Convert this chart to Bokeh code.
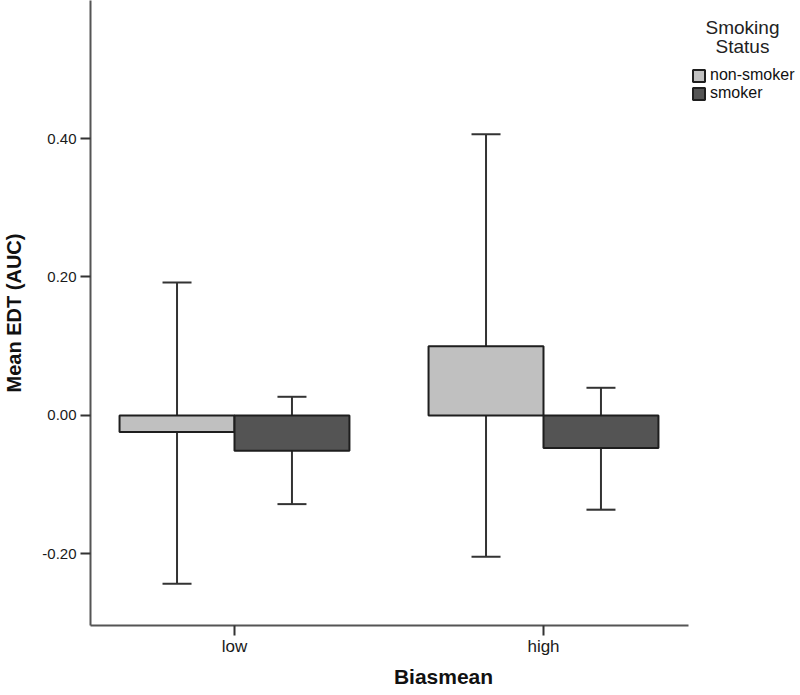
import numpy as np
from bokeh.plotting import figure
from bokeh.models import (ColumnDataSource, Range1d, FixedTicker, NumeralTickFormatter,
                          Whisker, TeeHead, Legend, LegendItem, Label)
from bokeh.transform import dodge
from bokeh.embed import file_html
from bokeh.resources import INLINE

categories = ["low", "high"]
nonsmoker_mean = [-0.024, 0.100]
nonsmoker_upper = [0.192, 0.406]
nonsmoker_lower = [-0.243, -0.204]
smoker_mean = [-0.051, -0.047]
smoker_upper = [0.027, 0.040]
smoker_lower = [-0.128, -0.136]
y_ticks = [-0.20, 0.00, 0.20, 0.40]
legend_title = ["Smoking", "Status"]
legend_labels = ["non-smoker", "smoker"]

FONT = "Liberation Sans"
C_NON = "#c0c0c0"
C_SMK = "#545454"
EDGE = "#1e1e1e"

xpos = list(range(len(categories)))
src_non = ColumnDataSource(dict(x=xpos, top=nonsmoker_mean, up=nonsmoker_upper, lo=nonsmoker_lower))
src_smk = ColumnDataSource(dict(x=xpos, top=smoker_mean, up=smoker_upper, lo=smoker_lower))

X0, X1 = -0.466, 1.469          # extent of the visible x axis
p = figure(frame_width=706, frame_height=625, output_backend="svg", toolbar_location=None,
           x_range=Range1d(X0, X0 + 706 / 309), y_range=Range1d(-0.3033, 0.5993),
           min_border_left=80, min_border_right=0, min_border_top=0, min_border_bottom=62)
p.outline_line_color = None
p.xgrid.visible = False
p.ygrid.visible = False
p.background_fill_color = "white"

W = 0.372
OFF = 0.186
r_non = p.vbar(x=dodge("x", -OFF), top="top", bottom=0, width=W, source=src_non,
               fill_color=C_NON, line_color=EDGE, line_width=2)
r_smk = p.vbar(x=dodge("x", OFF), top="top", bottom=0, width=W, source=src_smk,
               fill_color=C_SMK, line_color=EDGE, line_width=2)

for src, off in ((src_non, -OFF), (src_smk, OFF)):
    w = Whisker(base=dodge("x", off), upper="up", lower="lo", source=src,
                line_color="#333333", line_width=2,
                upper_head=TeeHead(size=29, line_color="#333333", line_width=2),
                lower_head=TeeHead(size=29, line_color="#333333", line_width=2))
    p.add_layout(w)

# axes
p.xaxis.ticker = FixedTicker(ticks=xpos)
p.xaxis.major_label_overrides = {i: c for i, c in enumerate(categories)}
p.xaxis.bounds = (X0, X1)
p.yaxis.ticker = FixedTicker(ticks=y_ticks)
p.yaxis.formatter = NumeralTickFormatter(format="0.00")
for ax in (p.xaxis, p.yaxis):
    ax.axis_line_color = "#555555"
    ax.axis_line_width = 2
    ax.major_tick_line_color = "#333333"
    ax.major_tick_line_width = 2
    ax.major_tick_out = 10
    ax.major_tick_in = 0
    ax.minor_tick_line_color = None
    ax.major_label_text_font = FONT
    ax.major_label_text_color = "#1a1a1a"
    ax.axis_label_text_font = FONT
    ax.axis_label_text_font_style = "bold"
    ax.axis_label_text_color = "#111111"
p.xaxis.major_label_text_font_size = "17px"
p.yaxis.major_label_text_font_size = "15px"
p.xaxis.axis_label_text_font_size = "21px"
p.yaxis.axis_label_text_font_size = "20px"
p.xaxis.axis_label = "Biasmean"
p.yaxis.axis_label = "Mean EDT (AUC)"
p.xaxis.major_label_standoff = 1
p.yaxis.major_label_standoff = 4
p.xaxis.axis_label_standoff = 6
p.yaxis.axis_label_standoff = 14

legend = Legend(items=[LegendItem(label=legend_labels[0], renderers=[r_non]),
                       LegendItem(label=legend_labels[1], renderers=[r_smk])],
                location=(601, 523), orientation="vertical",
                glyph_width=15, glyph_height=15, label_height=15, spacing=-2,
                label_standoff=4, padding=0, margin=0, border_line_color=None,
                background_fill_alpha=0, label_text_font=FONT, label_text_font_size="16px",
                label_text_color="#111111")
p.add_layout(legend, "center")

for txt, yy in zip(legend_title, (0.5603, 0.5329)):
    p.add_layout(Label(x=1.644, y=yy, text=txt,
                       text_font=FONT, text_font_size="19px", text_color="#222222",
                       text_align="center", text_baseline="middle"))

open("out.html", "w").write(file_html(p, INLINE))
